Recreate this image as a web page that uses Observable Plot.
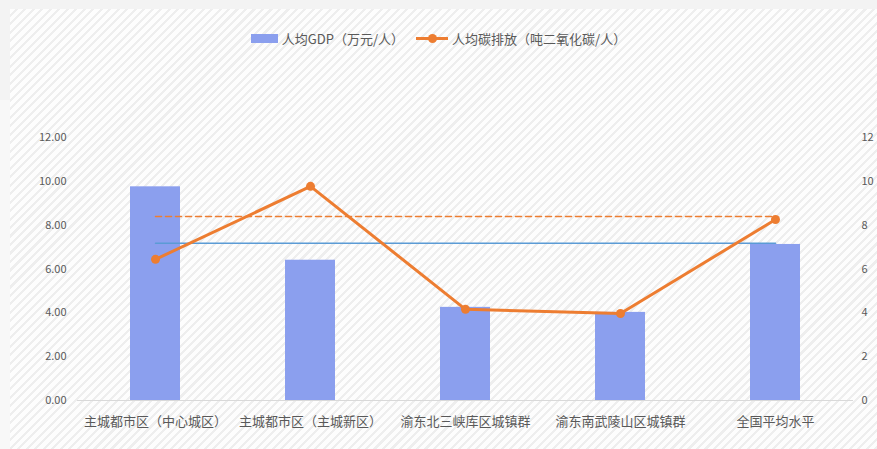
<!DOCTYPE html>
<html><head><meta charset="utf-8">
<script src="https://cdn.jsdelivr.net/npm/d3@7"></script>
<script src="https://cdn.jsdelivr.net/npm/@observablehq/plot@0.6"></script>
<style>
html,body{margin:0;padding:0;width:877px;height:449px;overflow:hidden;background:#f3f3f3;font-family:"Noto Sans CJK SC","Noto Sans",sans-serif;}
#panel{position:absolute;left:10px;top:9px;width:900px;height:460px;
 background:repeating-linear-gradient(135deg,#fdfdfd 0px,#fdfdfd 3.8px,#eeeeee 3.8px,#eeeeee 6px);}
#leftband{position:absolute;left:0;top:100px;width:10px;height:349px;background:#f8f8f8;}
#legend{position:absolute;left:0;top:29px;width:877px;display:flex;justify-content:center;align-items:center;font-size:13px;color:#595959;}
.item{display:flex;align-items:center;margin:0 6px;}
.sw{width:27px;height:9px;background:#8B9FEE;margin-right:4px;}
.ln{position:relative;width:32px;height:3px;background:#ED7D31;margin-right:4px;}
.ln::after{content:"";position:absolute;left:12px;top:-3px;width:9px;height:9px;border-radius:50%;background:#ED7D31;}
#chart{position:absolute;left:0;top:100px;}
</style></head>
<body>
<div id="leftband"></div>
<div id="panel"></div>
<div id="legend"></div>
<div id="chart"></div>
<script>
const categories = ["主城都市区（中心城区）", "主城都市区（主城新区）", "渝东北三峡库区城镇群", "渝东南武陵山区城镇群", "全国平均水平"];
const gdpPerCapita = [9.75, 6.40, 4.25, 4.02, 7.12];
const carbonPerCapita = [6.44, 9.77, 4.16, 3.97, 8.26];
const gdpReference = 7.17;
const carbonReference = 8.40;
const yTicks = [0, 2, 4, 6, 8, 10, 12];
const seriesNames = ["人均GDP（万元/人）", "人均碳排放（吨二氧化碳/人）"];

const legend = document.getElementById("legend");
legend.innerHTML = `<div class="item"><div class="sw"></div><span>${seriesNames[0]}</span></div>
<div class="item"><div class="ln"></div><span>${seriesNames[1]}</span></div>`;

const rows = categories.map((c, i) => ({cat: c, gdp: gdpPerCapita[i], carbon: carbonPerCapita[i]}));
const first = categories[0], last = categories[categories.length - 1];
const gdpRef = [{cat: first, v: gdpReference}, {cat: last, v: gdpReference}];
const carbonRef = [{cat: first, v: carbonReference}, {cat: last, v: carbonReference}];

const chart = Plot.plot({
  width: 877, height: 349,
  marginLeft: 77, marginRight: 24, marginTop: 37, marginBottom: 49,
  style: {background: "transparent", fontFamily: '"Noto Sans CJK SC", sans-serif', color: "#595959"},
  x: {domain: categories, paddingInner: 0.68, paddingOuter: 0.34, axis: null},
  y: {domain: [0, 12], axis: null},
  marks: [
    Plot.axisY({ticks: yTicks, anchor: "left", tickSize: 0, tickPadding: 11, tickFormat: d => d.toFixed(2), fontSize: 11, label: null, fill: "#595959"}),
    Plot.axisY({ticks: yTicks, anchor: "right", tickSize: 0, tickPadding: 8, tickFormat: d => String(d), fontSize: 11, label: null, fill: "#595959"}),
    Plot.axisX({anchor: "bottom", tickSize: 0, tickPadding: 16, fontSize: 13, label: null, fill: "#595959"}),
    Plot.ruleY([0], {stroke: "#d9d9d9", strokeWidth: 1}),
    Plot.barY(rows, {x: "cat", y: "gdp", fill: "#8B9FEE"}),
    Plot.line(gdpRef, {x: "cat", y: "v", stroke: "#5B9BD5", strokeWidth: 1.5}),
    Plot.line(carbonRef, {x: "cat", y: "v", stroke: "#ED7D31", strokeWidth: 1.5, strokeDasharray: "6,4"}),
    Plot.line(rows, {x: "cat", y: "carbon", stroke: "#ED7D31", strokeWidth: 3}),
    Plot.dot(rows, {x: "cat", y: "carbon", fill: "#ED7D31", r: 4.5})
  ]
});
document.getElementById("chart").appendChild(chart);
</script>
</body></html>
